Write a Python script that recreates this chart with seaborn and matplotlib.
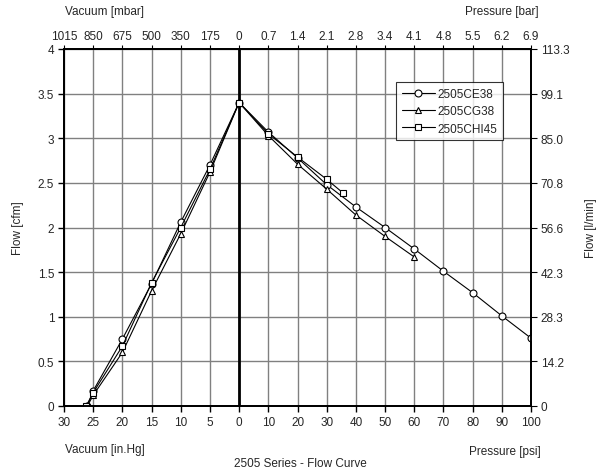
import numpy as np
import pandas as pd
import matplotlib
matplotlib.use('Agg')
import matplotlib.pyplot as plt
import seaborn as sns

# Flow readings (cfm); vacuum side in in.Hg, pressure side in psi
vac_inhg = [26, 25, 20, 15, 10, 5, 0]
ce38_vac = [0.0, 0.17, 0.75, 1.37, 2.06, 2.70, 3.40]
cg38_vac = [0.0, 0.12, 0.60, 1.29, 1.93, 2.62, 3.40]
chi45_vac_inhg = [26.2, 25, 20, 15, 10, 5, 0]
chi45_vac = [0.0, 0.15, 0.67, 1.38, 2.00, 2.65, 3.40]

ce38_psi = [10, 20, 30, 40, 50, 60, 70, 80, 90, 100]
ce38_pr = [3.07, 2.78, 2.48, 2.23, 2.00, 1.76, 1.51, 1.27, 1.01, 0.76]
cg38_psi = [10, 20, 30, 40, 50, 60]
cg38_pr = [3.03, 2.71, 2.43, 2.14, 1.90, 1.67]
chi45_psi = [10, 20, 30, 35.5]
chi45_pr = [3.05, 2.79, 2.54, 2.39]

models = ['2505CE38', '2505CG38', '2505CHI45']

bottom_labels = ['30', '25', '20', '15', '10', '5', '0', '10', '20', '30',
                 '40', '50', '60', '70', '80', '90', '100']
top_labels = ['1015', '850', '675', '500', '350', '175', '0', '0.7', '1.4',
              '2.1', '2.8', '3.4', '4.1', '4.8', '5.5', '6.2', '6.9']
left_labels = ['0', '0.5', '1', '1.5', '2', '2.5', '3', '3.5', '4']
right_labels = ['0', '14.2', '28.3', '42.3', '56.6', '70.8', '85.0', '99.1', '113.3']

FS = 8.5


def vac_pos(v):
    return (30 - np.asarray(v, dtype=float)) / 5


def psi_pos(p):
    return 6 + np.asarray(p, dtype=float) / 10


rows = []
for name, vx, vy, px, py in [
    (models[0], vac_inhg, ce38_vac, ce38_psi, ce38_pr),
    (models[1], vac_inhg, cg38_vac, cg38_psi, cg38_pr),
    (models[2], chi45_vac_inhg, chi45_vac, chi45_psi, chi45_pr),
]:
    for x, y in zip(vac_pos(vx), vy):
        rows.append((name, x, y))
    for x, y in zip(psi_pos(px), py):
        rows.append((name, x, y))
df = pd.DataFrame(rows, columns=['model', 'pos', 'flow'])

sns.set_style('white')
plt.rcParams['font.family'] = ['Liberation Sans', 'DejaVu Sans']
plt.rcParams['font.size'] = FS

fig = plt.figure(figsize=(6.02, 4.77), dpi=100)
ax = fig.add_axes([64 / 602, 1 - 407 / 477, (531 - 64) / 602, (407 - 50) / 477])

sns.lineplot(data=df, x='pos', y='flow', style='model', style_order=models,
             markers=['o', '^', 's'], dashes=False, color='black',
             linewidth=0.8, markersize=5, markerfacecolor='white',
             markeredgecolor='black', markeredgewidth=0.8,
             errorbar=None, legend=False, ax=ax, zorder=3)

handles = ax.lines[:3]
ax.axvline(6, color='black', linewidth=2, zorder=2)

ax.set_xlim(0, 16)
ax.set_ylim(0, 4)
ax.set_xticks(range(17))
ax.set_xticklabels(bottom_labels)
ax.set_yticks(np.arange(0, 4.01, 0.5))
ax.set_yticklabels(left_labels)
ax.set_xlabel('')
ax.set_ylabel('')
ax.grid(True, color='#808080', linewidth=1)
ax.tick_params(direction='out', length=4, width=1, color='black', pad=3,
               bottom=True, left=True, labelsize=FS)
for s in ax.spines.values():
    s.set_color('black')
    s.set_linewidth(1.2)

axt = ax.twiny()
axt.set_xlim(0, 16)
axt.set_xticks(range(17))
axt.set_xticklabels(top_labels)
axt.tick_params(direction='out', length=3, color='black', pad=2, labelsize=FS)

axr = ax.twinx()
axr.set_ylim(0, 4)
axr.set_yticks(np.arange(0, 4.01, 0.5))
axr.set_yticklabels(right_labels)
axr.tick_params(direction='out', length=4, color='black', pad=3, labelsize=FS)
for a in (axt, axr):
    for s in a.spines.values():
        s.set_color('black')
        s.set_linewidth(1.2)

leg = ax.legend(handles, models, loc='upper left',
                bbox_to_anchor=(396 / 602, 1 - 83 / 477),
                bbox_transform=fig.transFigure, frameon=True, fancybox=False,
                edgecolor='black', fontsize=FS, handlelength=2.8,
                borderaxespad=0, borderpad=0.5, labelspacing=0.45,
                handletextpad=0.2)
leg.get_frame().set_linewidth(0.8)
leg.set_zorder(5)

fig.text(65 / 602, 1 - 12 / 477, 'Vacuum [mbar]', ha='left', va='center', fontsize=FS)
fig.text(539 / 602, 1 - 12 / 477, 'Pressure [bar]', ha='right', va='center', fontsize=FS)
fig.text(65 / 602, 1 - 450 / 477, 'Vacuum [in.Hg]', ha='left', va='center', fontsize=FS)
fig.text(541 / 602, 1 - 452 / 477, 'Pressure [psi]', ha='right', va='center', fontsize=FS)
fig.text(300 / 602, 1 - 464 / 477, '2505 Series - Flow Curve', ha='center', va='center', fontsize=FS)
fig.text(18 / 602, 1 - 228 / 477, 'Flow [cfm]', rotation=90, ha='center', va='center', fontsize=FS)
fig.text(591 / 602, 1 - 228 / 477, 'Flow [l/min]', rotation=90, ha='center', va='center', fontsize=FS)

fig.savefig('out.png', dpi=100, facecolor='white')
